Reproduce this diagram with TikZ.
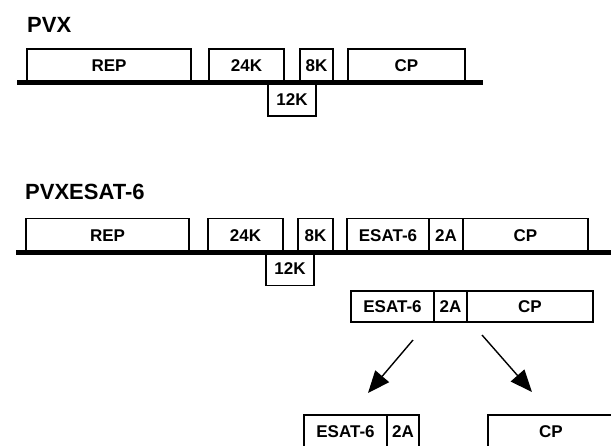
\documentclass[tikz,border=0pt]{standalone}
\usepackage{fontspec}
\setmainfont{Liberation Sans}
\usetikzlibrary{positioning,arrows.meta}
\begin{document}
\begin{tikzpicture}[x=1pt,y=-1pt,
  gene/.style={rectangle,draw,line width=1.3pt,inner sep=0pt,outer sep=0pt,
    minimum height=33.5pt,minimum width=#1,text height=12.2pt,text depth=0pt,
    font=\fontsize{17}{19}\bfseries\selectfont},
  gene/.default=40pt,
  prod/.style={gene=#1,minimum height=31pt},
  title/.style={inner sep=0pt,anchor=base west,font=\fontsize{22}{24}\bfseries\selectfont},
  cut/.style={line width=1.4pt,-{Triangle[length=22pt,width=18pt]}}]
\clip (0,0) rectangle (611,445);
% PVX
\node[title] (pvx) at (27,32) {PVX};
\node[gene=164pt,anchor=south west] (rep) at (27,82.5) {REP};
\node[gene=75pt,anchor=south west] (k24) at (209,82.5) {24K};
\node[gene=48pt,anchor=north west] (k12) at (268,82.5) {12K};
\node[gene=33pt,anchor=south west] (k8) at (300,82.5) {8K};
\node[gene=117pt,anchor=south west] (cp) at (348,82.5) {CP};
\draw[line width=5pt] (17,82.5) -- (483,82.5);
% PVXESAT-6
\node[title] (pvxesat) at (25,199) {PVXESAT-6};
\node[gene=163pt,anchor=south west] (repb) at (26,252) {REP};
\node[gene=75pt,anchor=south west] (k24b) at (208,252) {24K};
\node[gene=48pt,anchor=north west] (k12b) at (266,252) {12K};
\node[gene=35pt,anchor=south west] (k8b) at (298,252) {8K};
\node[gene=82pt,anchor=south west] (esatb) at (347,252) {ESAT-6};
\node[gene=34pt,right=0pt of esatb] (twoab) {2A};
\node[gene=125pt,right=0pt of twoab] (cpb) {CP};
\draw[line width=5pt] (16,252) -- (611,252);
% fusion product
\node[prod=83pt,anchor=south west] (esatp) at (351,322) {ESAT-6};
\node[prod=33pt,right=0pt of esatp] (twoap) {2A};
\node[prod=126pt,right=0pt of twoap] (cpp) {CP};
% cleavage products
\node[prod=83pt,minimum height=33pt,anchor=north west] (esatq) at (304,415) {ESAT-6};
\node[prod=32pt,minimum height=33pt,right=0pt of esatq] (twoaq) {2A};
\node[prod=126pt,minimum height=33pt,anchor=north west] (cpq) at (488,415) {CP};
\draw[cut] ([shift={(-21,18)}]esatp.south east) -- ([shift={(-19,-22)}]esatq.north east);
\draw[cut] ([shift={(15,13)}]cpp.south west) -- ([shift={(44,-23)}]cpq.north west);
\end{tikzpicture}
\end{document}
